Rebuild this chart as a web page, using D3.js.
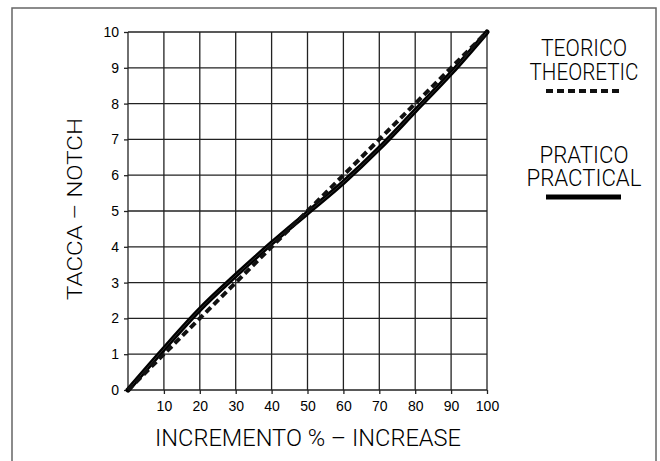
<!DOCTYPE html>
<html><head><meta charset="utf-8">
<script src="https://cdn.jsdelivr.net/npm/d3@7"></script>
<style>
html,body{margin:0;padding:0;background:#fff;}
svg{display:block;}
.t{font-family:Roboto,"Liberation Sans",sans-serif;font-weight:300;fill:#000;}
.tick text{font-family:"Liberation Sans",Arial,sans-serif;font-size:14px;fill:#000;}
</style>
</head><body>
<svg id="c" width="660" height="461"></svg>
<script>
const increments = [0,10,20,30,40,50,60,70,80,90,100];
const theoretic = [0,1,2,3,4,5,6,7,8,9,10];
const practical = [0,1.15,2.25,3.2,4.1,4.95,5.8,6.75,7.8,8.85,10];
const xTicks = [10,20,30,40,50,60,70,80,90,100];
const yTicks = [0,1,2,3,4,5,6,7,8,9,10];
const xTitle = "INCREMENTO  %  –  INCREASE";
const yTitle = "TACCA  –  NOTCH";
const legTheo = ["TEORICO","THEORETIC"];
const legPrat = ["PRATICO","PRACTICAL"];

const svg = d3.select("#c");
svg.append("rect").attr("x",12).attr("y",8).attr("width",644).attr("height",470)
  .attr("fill","none").attr("stroke","#666").attr("stroke-width",1.5);

const x = d3.scaleLinear().domain([0,100]).range([128,487]);
const y = d3.scaleLinear().domain([0,10]).range([390,32]);

const g = svg.append("g");
g.selectAll(".vg").data(xTicks).enter().append("line")
  .attr("x1",d=>x(d)).attr("x2",d=>x(d)).attr("y1",y(0)).attr("y2",y(10))
  .attr("stroke","#222").attr("stroke-width",1.3);
g.selectAll(".hg").data(yTicks).enter().append("line")
  .attr("x1",x(0)).attr("x2",x(100)).attr("y1",d=>y(d)).attr("y2",d=>y(d))
  .attr("stroke","#222").attr("stroke-width",1.3);
g.append("line").attr("x1",x(0)).attr("x2",x(0)).attr("y1",y(0)).attr("y2",y(10))
  .attr("stroke","#222").attr("stroke-width",1.3);

const xa = svg.append("g").attr("transform",`translate(0,${y(0)})`)
  .call(d3.axisBottom(x).tickValues(xTicks).tickSize(4).tickPadding(7).tickFormat(d3.format("d")));
xa.select(".domain").remove();
xa.selectAll("line").attr("stroke","#222").attr("stroke-width",1.3);
const ya = svg.append("g").attr("transform",`translate(${x(0)},0)`)
  .call(d3.axisLeft(y).tickValues(yTicks).tickSize(4).tickPadding(5).tickFormat(d3.format("d")));
ya.select(".domain").remove();
ya.selectAll("line").attr("stroke","#222").attr("stroke-width",1.3);

const line = d3.line().curve(d3.curveMonotoneX);
svg.append("path")
  .attr("d", line(increments.map((v,i)=>[x(v),y(practical[i])])))
  .attr("fill","none").attr("stroke","#000").attr("stroke-width",5).attr("stroke-linecap","round");
svg.append("path")
  .attr("d", line(increments.map((v,i)=>[x(v),y(practical[i])])))
  .attr("fill","none").attr("stroke","#fff").attr("stroke-width",0.5).attr("opacity",0.35);
svg.append("path")
  .attr("d", d3.line()(increments.map((v,i)=>[x(v),y(theoretic[i])])))
  .attr("fill","none").attr("stroke","#111").attr("stroke-width",4).attr("stroke-dasharray","7,4");

svg.append("text").attr("class","t").attr("x",308).attr("y",446)
  .attr("text-anchor","middle").attr("font-size",24)
  .attr("textLength",306).attr("lengthAdjust","spacingAndGlyphs").text(xTitle);
svg.append("text").attr("class","t").attr("transform","translate(82,209) rotate(-90)")
  .attr("text-anchor","middle").attr("font-size",20)
  .attr("textLength",182).attr("lengthAdjust","spacingAndGlyphs").text(yTitle);

const legs = [
  {txt:legTheo, ys:[56,80], w:[86,109]},
  {txt:legPrat, ys:[163,186], w:[89,115]}
];
legs.forEach(l=>{
  const t = svg.append("text").attr("class","t").attr("text-anchor","middle").attr("font-size",24);
  l.txt.forEach((s,i)=>{
    t.append("tspan").attr("x",584).attr("y",l.ys[i])
      .attr("textLength",l.w[i]).attr("lengthAdjust","spacingAndGlyphs").text(s);
  });
});
svg.append("line").attr("x1",546).attr("x2",623).attr("y1",91).attr("y2",91)
  .attr("stroke","#111").attr("stroke-width",4).attr("stroke-dasharray","7,4");
svg.append("line").attr("x1",546).attr("x2",621).attr("y1",197).attr("y2",197)
  .attr("stroke","#000").attr("stroke-width",5);
</script>
</body></html>
